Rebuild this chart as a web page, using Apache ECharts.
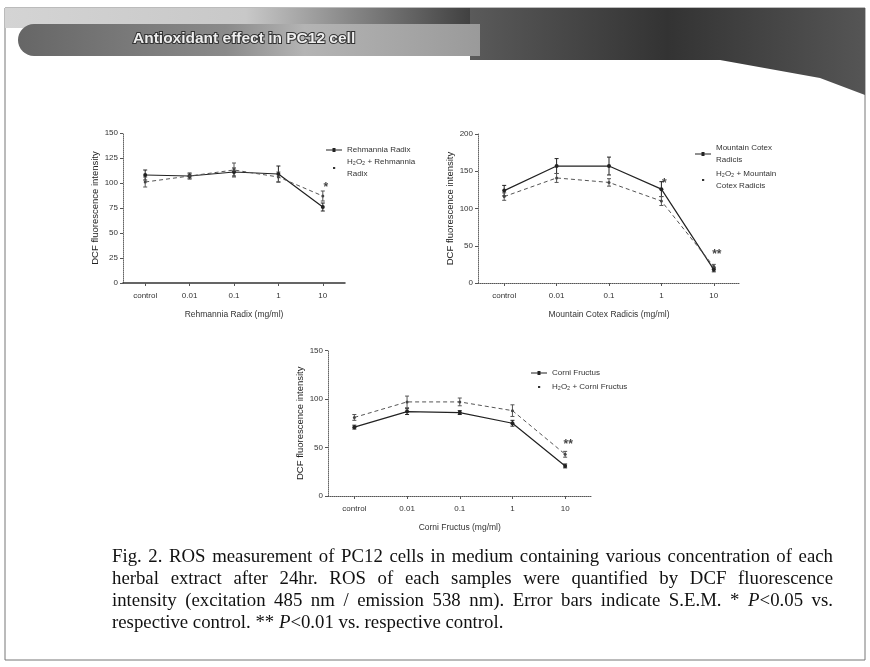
<!DOCTYPE html>
<html><head><meta charset="utf-8">
<script src="https://cdn.jsdelivr.net/npm/echarts@6/dist/echarts.min.js"></script>
<style>
html,body{margin:0;padding:0;background:#fff;}
#chart{position:absolute;left:0;top:0;width:870px;height:667px;}
#caption{position:absolute;left:112px;top:545px;width:721px;font-family:'Liberation Serif','Times New Roman',serif;font-size:18.8px;line-height:22px;color:#111;}
#caption .j{text-align:justify;text-align-last:justify;white-space:nowrap;}
</style></head><body>
<div id="chart"></div>
<div id="caption">
<div class="j">Fig. 2. ROS measurement of PC12 cells in medium containing various concentration of each</div>
<div class="j">herbal extract after 24hr. ROS of each samples were quantified by DCF fluorescence</div>
<div class="j">intensity (excitation 485 nm / emission 538 nm). Error bars indicate S.E.M. * <i>P</i>&lt;0.05 vs.</div>
<div>respective control. ** <i>P</i>&lt;0.01 vs. respective control.</div>
</div>
<script>
// ---- data ----
const categories = ['control', '0.01', '0.1', '1', '10'];

const rehmannia = [108, 107, 111, 109, 76];
const rehmanniaErr = [5, 3, 4, 8, 4];
const rehmanniaH2O2 = [101, 107, 113, 106, 87];
const rehmanniaH2O2Err = [5, 2, 7, 5, 5];

const mountain = [124, 157, 157, 126, 18];
const mountainErr = [7, 10, 12, 10, 3];
const mountainH2O2 = [116, 141, 135, 110, 22];
const mountainH2O2Err = [5, 6, 5, 6, 3];

const corni = [71, 87, 86, 75, 31];
const corniErr = [2, 3, 2, 3, 2];
const corniH2O2 = [81, 97, 97, 88, 43];
const corniH2O2Err = [3, 6, 4, 6, 3];

// significance marks: [category index, value, text]
const sigRehmannia = [[4, 98, '*']];
const sigMountain = [[3, 137, '*'], [4, 42, '**']];
const sigCorni = [[4, 56, '**']];

const yMax = [150, 200, 150];
const yInterval = [25, 50, 50];
const xTitles = ['Rehmannia Radix (mg/ml)', 'Mountain Cotex Radicis (mg/ml)', 'Corni Fructus (mg/ml)'];
const yTitle = 'DCF fluorescence intensity';
const seriesNames = [
  ['Rehmannia Radix', 'H₂O₂ + Rehmannia Radix'],
  ['Mountain Cotex Radicis', 'H₂O₂ + Mountain Cotex Radicis'],
  ['Corni Fructus', 'H₂O₂ + Corni Fructus']
];
const legendText = {
  'Rehmannia Radix': 'Rehmannia Radix',
  'H₂O₂ + Rehmannia Radix': 'H₂O₂ + Rehmannia\nRadix',
  'Mountain Cotex Radicis': 'Mountain Cotex\nRadicis',
  'H₂O₂ + Mountain Cotex Radicis': 'H₂O₂ + Mountain\nCotex Radicis',
  'Corni Fructus': 'Corni Fructus',
  'H₂O₂ + Corni Fructus': 'H₂O₂ + Corni Fructus'
};

// ---- layout ----
const grids = [
  {left: 123, top: 133, width: 222, height: 150},
  {left: 478, top: 134, width: 262, height: 149},
  {left: 328, top: 350.5, width: 263.5, height: 145.5}
];
const font = 'Liberation Sans, Arial, sans-serif';
const dark = '#222';

const chart = echarts.init(document.getElementById('chart'), null, {renderer: 'canvas'});

function errSeries(vals, errs, axis, color) {
  return {
    type: 'custom', xAxisIndex: axis, yAxisIndex: axis, silent: true, z: 3,
    data: vals.map((v, i) => [i, v - errs[i], v + errs[i]]),
    encode: {x: 0, y: [1, 2]},
    renderItem(params, api) {
      const lo = api.coord([api.value(0), api.value(1)]);
      const hi = api.coord([api.value(0), api.value(2)]);
      const w = 2;
      const st = {stroke: color, lineWidth: 1};
      return {type: 'group', children: [
        {type: 'line', shape: {x1: lo[0], y1: lo[1], x2: hi[0], y2: hi[1]}, style: st},
        {type: 'line', shape: {x1: lo[0] - w, y1: lo[1], x2: lo[0] + w, y2: lo[1]}, style: st},
        {type: 'line', shape: {x1: hi[0] - w, y1: hi[1], x2: hi[0] + w, y2: hi[1]}, style: st}
      ]};
    }
  };
}
function sigSeries(data, axis) {
  return {
    type: 'scatter', xAxisIndex: axis, yAxisIndex: axis, symbolSize: 1, silent: true, z: 6,
    itemStyle: {color: 'rgba(0,0,0,0)'},
    data: data,
    label: {show: true, position: 'inside', offset: [3, 3], formatter: p => p.data[2],
      fontSize: 12, fontWeight: 'bold', color: '#111', fontFamily: font}
  };
}

const xAxes = [], yAxes = [], series = [];
const seriesData = [
  [rehmannia, rehmanniaErr, rehmanniaH2O2, rehmanniaH2O2Err, sigRehmannia],
  [mountain, mountainErr, mountainH2O2, mountainH2O2Err, sigMountain],
  [corni, corniErr, corniH2O2, corniH2O2Err, sigCorni]
];
for (let k = 0; k < 3; k++) {
  xAxes.push({
    type: 'category', gridIndex: k, data: categories, boundaryGap: true,
    name: xTitles[k], nameLocation: 'middle', nameGap: 27,
    nameTextStyle: {fontSize: 8.5, color: '#333', fontFamily: font},
    axisLine: {lineStyle: {color: k === 0 ? '#333' : '#555', width: k === 0 ? 1.5 : 1, type: k === 0 ? 'solid' : 'dotted'}},
    axisTick: {show: true, alignWithLabel: true, length: 3, lineStyle: {color: '#555'}},
    axisLabel: {fontSize: 8, color: '#333', margin: 9, fontFamily: font, interval: 0},
    splitLine: {show: false}
  });
  yAxes.push({
    type: 'value', gridIndex: k, min: 0, max: yMax[k], interval: yInterval[k],
    name: yTitle, nameLocation: 'middle', nameGap: 23, nameRotate: 90,
    nameTextStyle: {fontSize: 9.5, color: '#222', fontFamily: font},
    axisLine: {show: true, lineStyle: {color: '#666', type: 'dotted'}},
    axisTick: {show: true, length: 3, lineStyle: {color: '#555'}},
    axisLabel: {fontSize: 8, color: '#333', margin: 5, fontFamily: font},
    splitLine: {show: false}
  });
  const [a, ae, b, be, sig] = seriesData[k];
  series.push({
    name: seriesNames[k][0], type: 'line', xAxisIndex: k, yAxisIndex: k, data: a,
    symbol: 'circle', symbolSize: 4, z: 4,
    lineStyle: {color: dark, width: 1.2}, itemStyle: {color: dark}
  });
  series.push({
    name: seriesNames[k][1], type: 'line', xAxisIndex: k, yAxisIndex: k, data: b,
    symbol: 'circle', symbolSize: 3, z: 4,
    lineStyle: {color: '#555', width: 1, type: [4, 3]}, itemStyle: {color: '#444'}
  });
  series.push(errSeries(a, ae, k, dark));
  series.push(errSeries(b, be, k, '#555'));
  series.push(sigSeries(sig, k));
}

function legendFor(k, left, top, gap) {
  return {
    left: left, top: top, orient: 'vertical', itemGap: gap, itemWidth: 16, itemHeight: 5,
    data: [
      {name: seriesNames[k][0], icon: 'path://M0,2 L16,2 L16,3 L0,3 Z M6.5,0.5 L9.5,0.5 L9.5,4.5 L6.5,4.5 Z'},
      {name: seriesNames[k][1], icon: 'path://M0,0 L0.01,0 Z M16,5 L15.99,5 Z M7,1.4 L9.2,1.4 L9.2,3.6 L7,3.6 Z', itemStyle: {color: '#333'}}
    ],
    formatter: n => legendText[n],
    textStyle: {fontSize: 8, color: '#333', fontFamily: font, lineHeight: 12},
    selectedMode: false, itemStyle: {color: dark}
  };
}

const option = {
  backgroundColor: '#fff',
  animation: false,
  grid: grids.map(g => Object.assign({containLabel: false}, g)),
  xAxis: xAxes, yAxis: yAxes, series: series,
  legend: [legendFor(0, 321, 139, 0), legendFor(1, 690, 137, 2), legendFor(2, 526, 362, 2)],
  graphic: [
    {type: 'rect', shape: {x: 5, y: 8, width: 860, height: 652}, style: {fill: 'none', stroke: '#777', lineWidth: 1}, z: 0},
    {type: 'rect', shape: {x: 5, y: 8, width: 860, height: 20},
      style: {fill: new echarts.graphic.LinearGradient(0, 0, 1, 0, [
        {offset: 0, color: '#d4d4d4'}, {offset: 0.28, color: '#c8c8c8'}, {offset: 0.4, color: '#888'},
        {offset: 0.55, color: '#3c3c3c'}, {offset: 1, color: '#3a3a3a'}])}, z: 1},
    {type: 'polygon', shape: {points: [[470, 8], [865, 8], [865, 95], [820, 78], [720, 60], [470, 60]]},
      style: {fill: new echarts.graphic.LinearGradient(0, 0, 1, 0, [
        {offset: 0, color: '#5a5a5a'}, {offset: 0.5, color: '#333'}, {offset: 1, color: '#555'}])}, z: 1},
    {type: 'rect', shape: {x: 18, y: 24, width: 462, height: 32, r: [16, 0, 0, 16]},
      style: {fill: new echarts.graphic.LinearGradient(0, 0, 1, 0, [
        {offset: 0, color: '#666'}, {offset: 0.45, color: '#8a8a8a'}, {offset: 0.62, color: '#b4b4b4'}, {offset: 1, color: '#9a9a9a'}])}, z: 1},
    {type: 'text', x: 133, y: 39, style: {text: 'Antioxidant effect in PC12 cell', fontSize: 15.5, fontWeight: 'bold',
      fontFamily: font, fill: '#eeeeee', stroke: '#333', lineWidth: 2, verticalAlign: 'middle'}, z: 2}
  ]
};
chart.setOption(option);
</script>
</body></html>
